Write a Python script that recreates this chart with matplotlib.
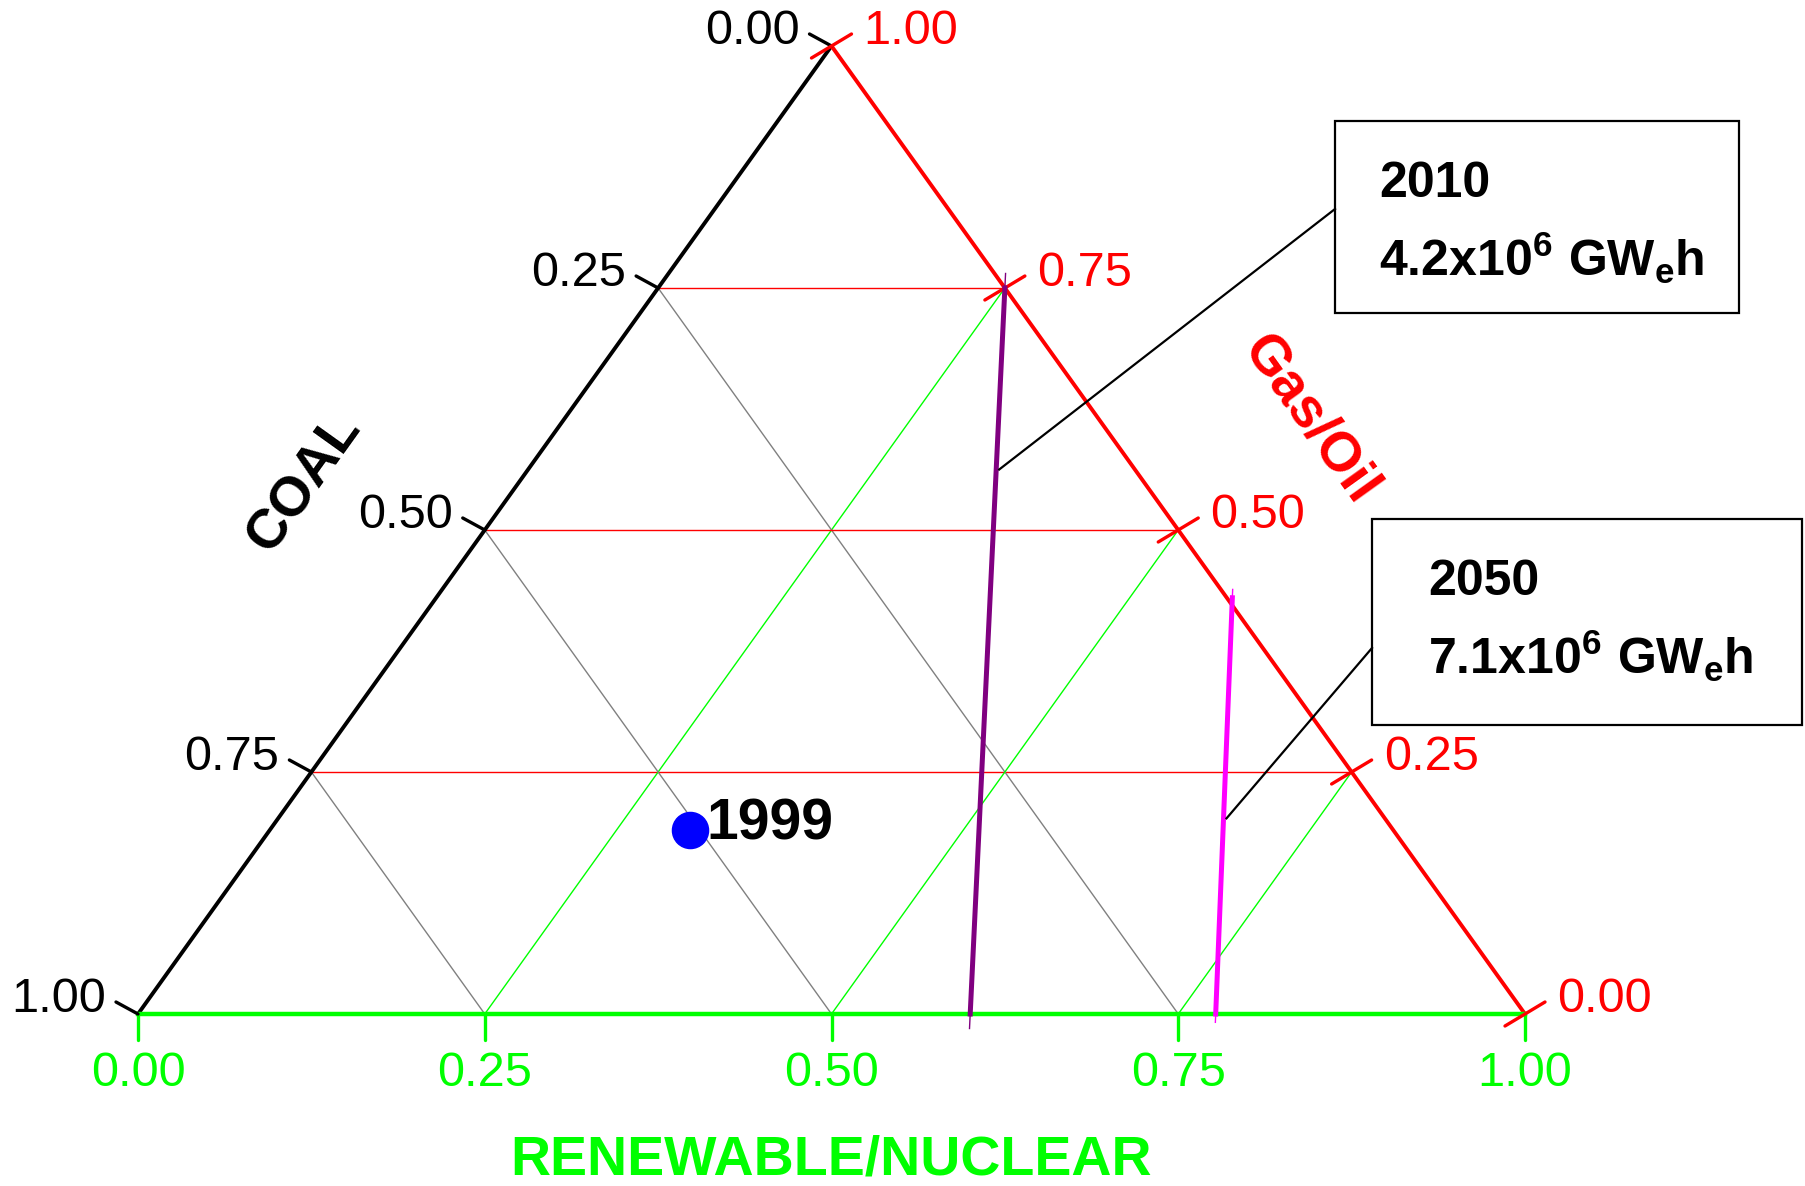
import matplotlib
matplotlib.use('Agg')

import matplotlib.pyplot as plt
from matplotlib.patches import Rectangle

plt.rcParams['font.family'] = ['Liberation Sans', 'DejaVu Sans']
plt.rcParams['mathtext.fontset'] = 'custom'
plt.rcParams['mathtext.rm'] = 'Liberation Sans:bold'
plt.rcParams['mathtext.bf'] = 'Liberation Sans:bold'
plt.rcParams['mathtext.it'] = 'Liberation Sans:bold'

# ternary data: (renewable, gas) fractions, coal = 1 - renewable - gas
tick_vals = [0.0, 0.25, 0.5, 0.75, 1.0]
tick_labels = ["0.00", "0.25", "0.50", "0.75", "1.00"]
grid_vals = [0.25, 0.5, 0.75]

point_1999 = {"renewable": 0.303, "gas": 0.19}
line_2010 = {"renewable": [0.60, 0.25], "gas": [0.0, 0.75]}
line_2050 = {"renewable": [0.777, 0.574], "gas": [0.0, 0.43]}

box_2010 = ["2010", r"$4.2x10^6\ GW_eh$"]
box_2050 = ["2050", r"$7.1x10^6\ GW_eh$"]

GREEN = "#00ff00"
RED = "#ff0000"

W, H = 1805, 1186
# pixel positions of the triangle (full-size image)
X0, X1, YB, YT = 138, 1525, 1014, 46
SX = X1 - X0
SY = YB - YT


def tern(r, g):
    return r + g / 2.0, g


def px(x, y):
    # pixel (y down) -> data
    return (x - X0) / SX, (YB - y) / SY


fig = plt.figure(figsize=(W / 100, H / 100), dpi=100)
ax = fig.add_axes([0, 0, 1, 1])
ax.set_xlim(px(0, 0)[0], px(W, 0)[0])
ax.set_ylim(px(0, H)[1], px(0, 0)[1])
ax.axis('off')

# grid lines
for v in grid_vals:
    # constant gas (red)
    a = tern(0, v); b = tern(1 - v, v)
    ax.plot([a[0], b[0]], [a[1], b[1]], color=RED, lw=1.0, zorder=1)
    # constant renewable (green)
    a = tern(v, 0); b = tern(v, 1 - v)
    ax.plot([a[0], b[0]], [a[1], b[1]], color=GREEN, lw=1.0, zorder=1)
    # constant coal (gray)
    a = tern(0, 1 - v); b = tern(1 - v, 0)
    ax.plot([a[0], b[0]], [a[1], b[1]], color="#808080", lw=1.0, zorder=1)

# triangle edges
ax.plot([0, 0.5], [0, 1], color="black", lw=2.8, zorder=3, solid_capstyle='round')
ax.plot([0.5, 1], [1, 0], color=RED, lw=2.8, zorder=3, solid_capstyle='round')
ax.plot([0, 1], [0, 0], color=GREEN, lw=3.2, zorder=3)

dx = 1.0 / SX
dy = 1.0 / SY

# ticks and tick labels
for v, lab in zip(tick_vals, tick_labels):
    # bottom (renewable)
    x, y = tern(v, 0)
    ax.plot([x, x], [y, y - 26 * dy], color=GREEN, lw=2.4, zorder=3, solid_capstyle='round')
    ax.text(x, y - 60 * dy, lab, color=GREEN, fontsize=35, ha='center', va='center')
    # left (coal) : coal = v -> gas = 1 - v on left edge
    x, y = tern(0, 1 - v)
    ex, ey = x - 22 * dx, y + 12 * dy
    ax.plot([x, ex], [y, ey], color="black", lw=2.4, zorder=4, solid_capstyle='round')
    ax.text(ex - 10 * dx, ey + 2 * dy, lab, color="black", fontsize=35, ha='right', va='center')
    # right (gas)
    x, y = tern(1 - v, v)
    ax.plot([x - 20 * dx, x + 20 * dx], [y - 12 * dy, y + 12 * dy], color=RED, lw=2.4,
            zorder=4, solid_capstyle='round')
    ax.text(x + 32 * dx, y + 14 * dy, lab, color=RED, fontsize=35, ha='left', va='center')

# axis titles
ax.text(*px(305, 483), "COAL", color="black", fontsize=40, fontweight='bold',
        rotation=54.4, ha='center', va='center', rotation_mode='anchor')
ax.text(*px(1310, 420), "Gas/Oil", color=RED, fontsize=40, fontweight='bold',
        rotation=-54.4, ha='center', va='center', rotation_mode='anchor')
ax.text(*px(831, 1160), "RENEWABLE/NUCLEAR", color=GREEN, fontsize=40, fontweight='bold',
        ha='center', va='center')

# scenario lines
for d, col in [(line_2010, "#800080"), (line_2050, "#ff00ff")]:
    pts = [tern(r, g) for r, g in zip(d["renewable"], d["gas"])]
    xs = [p[0] for p in pts]; ys = [p[1] for p in pts]
    # thin extensions at the ends
    ux, uy = xs[1] - xs[0], ys[1] - ys[0]
    ax.plot([xs[0] - ux * 0.02, xs[1] + ux * 0.02], [ys[0] - uy * 0.02, ys[1] + uy * 0.02],
            color=col, lw=1.0, zorder=4)
    ax.plot(xs, ys, color=col, lw=3.6, zorder=5)

# 1999 point
x, y = tern(point_1999["renewable"], point_1999["gas"])
ax.plot(x, y, 'o', color="#0000ff", markersize=26, zorder=6)
ax.text(x + 16 * dx, y + 6 * dy, "1999", color="black", fontsize=41, fontweight='bold',
        ha='left', va='center', zorder=6)

# callout boxes
for (bx0, by0, bx1, by1), lines, lx, src in [
        ((1335, 121, 1739, 313), box_2010, 1379, (line_2010, 0.75, 1335, 209)),
        ((1372, 519, 1802, 725), box_2050, 1428, (line_2050, 0.47, 1372, 648))]:
    p0 = px(bx0, by1)
    p1 = px(bx1, by0)
    ax.add_patch(Rectangle(p0, p1[0] - p0[0], p1[1] - p0[1], fill=False,
                           edgecolor="black", lw=1.6, zorder=7))
    top = by0
    ax.text(*px(lx, top + 63), lines[0], fontsize=36, fontweight='bold', ha='left',
            va='center', zorder=8)
    ax.text(*px(lx, top + 137), lines[1], fontsize=36, ha='left', va='center', zorder=8)
    d, t, ex, ey = src
    r = d["renewable"][0] + t * (d["renewable"][1] - d["renewable"][0])
    g = d["gas"][0] + t * (d["gas"][1] - d["gas"][0])
    sx, sy = tern(r, g)
    bx, byy = px(ex, ey)
    ax.plot([sx + 3 * dx, bx], [sy, byy], color="black", lw=1.6, zorder=7)

fig.savefig("out.png", dpi=100)
